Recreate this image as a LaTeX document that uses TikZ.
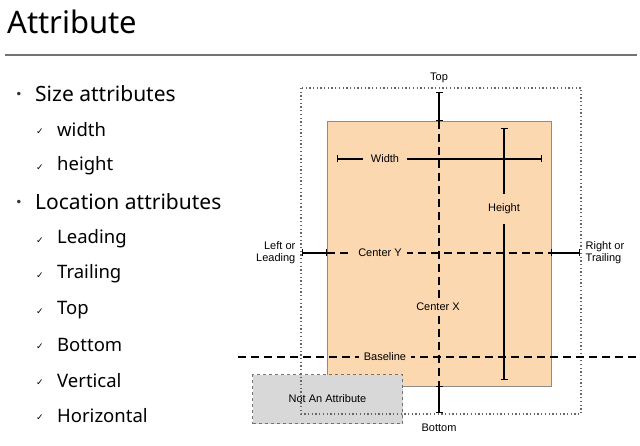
\documentclass[tikz,border=0pt]{standalone}
\usepackage{fontspec}
\setmainfont{Noto Sans}
\newfontfamily\labelfont{Liberation Sans}
\newfontfamily\symfont{DejaVu Sans}
\usetikzlibrary{arrows.meta}
\definecolor{peach}{RGB}{252,216,176}
\definecolor{boxgray}{RGB}{216,216,216}

\begin{document}
\begin{tikzpicture}[x=1pt,y=-1pt,
  dim/.style={line width=1.4pt,{Bar[width=7pt]}-{Bar[width=7pt]}},
  guide/.style={line width=1.4pt,dash pattern=on 8pt off 5pt},
  lbl/.style={font=\labelfont\fontsize{11}{12}\selectfont,inner sep=1.5pt},
  gaplbl/.style={lbl,fill=peach},
  topic/.style={anchor=west,font=\fontsize{21}{23}\selectfont,inner sep=0pt},
  item/.style={anchor=west,font=\fontsize{18.5}{20}\selectfont,inner sep=0pt}]
\useasboundingbox (0,0) rectangle (640,446);

% title
\node[anchor=west,font=\fontsize{31}{33}\selectfont,inner sep=0pt] (title) at (7,22) {Attribute};
\draw[line width=1.5pt,black!55] (5,55) -- (637,55);

% list on the left
\foreach \y/\txt/\nm in {94/Size attributes/size,202/Location attributes/loc}{
  \node[font=\symfont\fontsize{12}{12}\selectfont,text=black!80] (b\nm) at (19,\y+1) {•};
  \node[topic] (\nm) at (35,\y) {\txt};
}
\foreach \y/\txt/\nm in {130/width/w,166/height/h,239/Leading/lead,274/Trailing/trail,
  310/Top/top,345/Bottom/bot,381/Vertical/vert,416/Horizontal/hor}{
  \node[font=\symfont\fontsize{9}{9}\selectfont] (c\nm) at (40,\y+2) {✓};
  \node[item] (\nm) at (57,\y) {\txt};
}

% view and frame
\coordinate (vtl) at (327,121);
\coordinate (vbr) at (551,386);
\coordinate (ftl) at (301,88);
\coordinate (fbr) at (581,414);
\fill[peach] (vtl) rectangle (vbr);
\draw[black!45,line width=0.6pt] (vtl) rectangle (vbr);
\node[draw=black!55,dashed,line width=0.7pt,fill=boxgray,minimum width=150pt,minimum height=49pt,
  inner sep=0pt,lbl] (notattr) at (327.5,399) {Not An Attribute};
\draw[black!60,line width=1.3pt,dash pattern=on 1.3pt off 2.4pt] (ftl) rectangle (fbr);

% center x and center y
\coordinate (cxt) at (439,121);
\coordinate (cxb) at (439,386);
\coordinate (cyl) at (327,253);
\coordinate (cyr) at (551,253);
\draw[guide] (cxt) -- (cxb);
\draw[guide] (cyl) -- (cyr);
\node[gaplbl,inner ysep=5pt] (centerx) at (438,307) {Center X};
\node[gaplbl,inner xsep=5pt] (centery) at (380,253) {Center Y};

% baseline
\coordinate (bll) at (238,357);
\coordinate (blr) at (640,357);
\draw[guide] (bll) -- (blr);
\node[gaplbl,inner xsep=5pt] (baseline) at (385,357) {Baseline};

% width and height
\coordinate (wl) at (337,159);
\coordinate (wr) at (542,159);
\coordinate (ht) at (504,128);
\coordinate (hb) at (504,380);
\draw[dim] (wl) -- (wr);
\draw[dim] (ht) -- (hb);
\node[gaplbl,inner xsep=8pt] (width) at (385,159) {Width};
\node[gaplbl,inner ysep=10pt] (height) at (504,209) {Height};

% edges
\coordinate (tt) at (439,92);
\coordinate (bb) at (439,413);
\coordinate (ll) at (302,253);
\coordinate (rr) at (580,253);
\draw[dim] (tt) -- (cxt);
\draw[dim] (cxb) -- (bb);
\draw[dim] (ll) -- (cyl);
\draw[dim] (cyr) -- (rr);
\node[lbl] (top) at (439,78) {Top};
\node[lbl] (bottom) at (439,428) {Bottom};
\node[lbl,align=right,anchor=east,font=\labelfont\fontsize{11}{12}\selectfont] (left) at (297,253) {Left or\\Leading};
\node[lbl,align=left,anchor=west,font=\labelfont\fontsize{11}{12}\selectfont] (right) at (584,253) {Right or\\Trailing};
\end{tikzpicture}
\end{document}
